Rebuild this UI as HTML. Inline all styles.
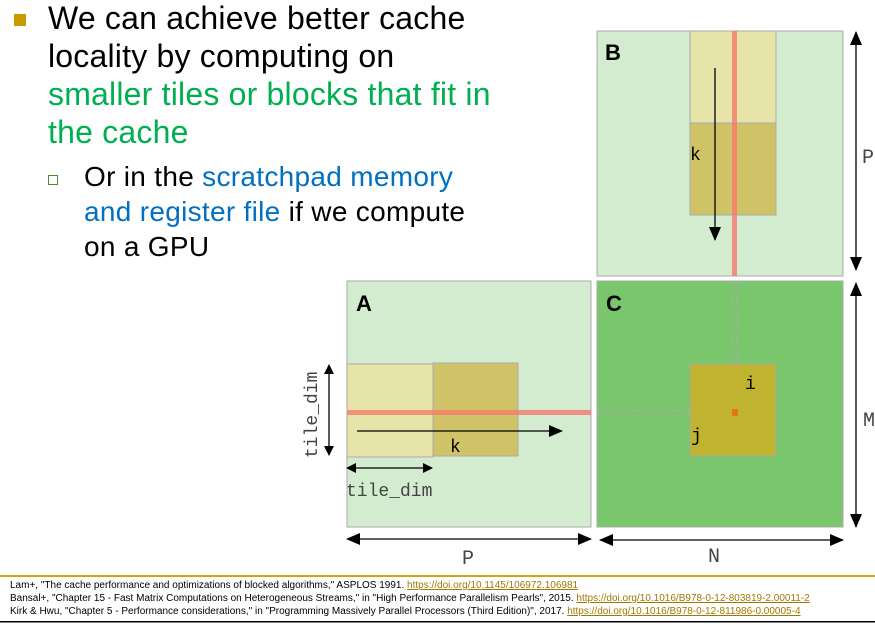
<!DOCTYPE html>
<html><head><style>
body{margin:0;width:875px;height:625px;background:#fff;position:relative;overflow:hidden;font-family:"Liberation Sans",sans-serif}
.t{position:absolute;white-space:nowrap}
.g{color:#00b050}.b{color:#0070c0}
.ref{position:absolute;left:10px;font-size:10px;color:#000;white-space:nowrap}
.ref a{color:#a07800;text-decoration:underline}
</style></head><body>
<div style="position:absolute;left:14px;top:14px;width:12px;height:12px;background:#c89a00"></div>
<div class="t" style="left:48px;top:-1px;font-size:32px;line-height:38px;letter-spacing:0.2px">We can achieve better cache<br>locality by computing on<br><span class="g">smaller tiles or blocks that fit in<br>the cache</span></div>
<div style="position:absolute;left:48px;top:175px;width:8px;height:8px;border:1.5px solid #4a8a2a"></div>
<div class="t" style="left:84px;top:159px;font-size:28px;line-height:35px;letter-spacing:0.3px">Or in the <span class="b">scratchpad memory</span><br><span class="b">and register file</span> if we compute<br>on a GPU</div>
<svg width="875" height="625" style="position:absolute;left:0;top:0">
<defs><marker id="a" markerWidth="10" markerHeight="10" refX="9" refY="5" orient="auto-start-reverse" markerUnits="userSpaceOnUse"><path d="M0,0L10,5L0,10z" fill="#000"/></marker>
<marker id="a2" markerWidth="14" markerHeight="12" refX="13" refY="6" orient="auto-start-reverse" markerUnits="userSpaceOnUse"><path d="M0,0L14,6L0,12z" fill="#000"/></marker></defs>
<rect x="597" y="31" width="246" height="245" fill="#d3ecd0" stroke="#aaa"/>
<rect x="690" y="31" width="86" height="92" fill="#e6e4a8" stroke="#aaa"/>
<rect x="690" y="123" width="86" height="92" fill="#d0c367" stroke="#aaa"/>
<rect x="732" y="31" width="5" height="245" fill="#f57a6e" opacity=".8"/>
<line x1="715" y1="68" x2="715" y2="240" stroke="#000" stroke-width="1.3" marker-end="url(#a2)"/>
<text x="605" y="60" font-size="22" font-weight="bold">B</text>
<text x="690" y="160" font-family="Liberation Mono" font-size="18">k</text>
<rect x="347" y="281" width="244" height="246" fill="#d3ecd0" stroke="#aaa"/>
<rect x="347" y="364" width="86" height="93" fill="#e6e4a8" stroke="#aaa"/>
<rect x="433" y="363" width="85" height="93" fill="#d0c367" stroke="#aaa"/>
<rect x="347" y="410" width="244" height="5" fill="#f57a6e" opacity=".8"/>
<line x1="357" y1="431" x2="562" y2="431" stroke="#000" stroke-width="1.3" marker-end="url(#a2)"/>
<text x="356" y="311" font-size="22" font-weight="bold">A</text>
<text x="450" y="452" font-family="Liberation Mono" font-size="18">k</text>
<rect x="597" y="281" width="246" height="246" fill="#79c66c" stroke="#aaa"/>
<line x1="733" y1="281" x2="733" y2="412" stroke="#aaa" stroke-dasharray="3,2"/>
<line x1="737" y1="281" x2="737" y2="412" stroke="#aaa" stroke-dasharray="3,2"/>
<line x1="597" y1="411" x2="735" y2="411" stroke="#aaa" stroke-dasharray="3,2"/>
<line x1="597" y1="415" x2="735" y2="415" stroke="#aaa" stroke-dasharray="3,2"/>
<rect x="690" y="364" width="86" height="92" fill="#c4b22c" stroke="#aaa" opacity=".95"/>
<rect x="732" y="409" width="6" height="7" fill="#e07a10"/>
<text x="606" y="311" font-size="22" font-weight="bold">C</text>
<text x="745" y="389" font-family="Liberation Mono" font-size="18">i</text>
<text x="691" y="441" font-family="Liberation Mono" font-size="18">j</text>
<line x1="329" y1="365" x2="329" y2="455" stroke="#000" stroke-width="1.3" marker-start="url(#a)" marker-end="url(#a)"/>
<text transform="translate(317,458) rotate(-90)" font-family="Liberation Mono" font-size="18" fill="#444">tile_dim</text>
<line x1="347" y1="468" x2="432" y2="468" stroke="#000" stroke-width="1.3" marker-start="url(#a)" marker-end="url(#a)"/>
<text x="346" y="496" font-family="Liberation Mono" font-size="18" fill="#444">tile_dim</text>
<line x1="347" y1="539" x2="591" y2="539" stroke="#000" stroke-width="1.3" marker-start="url(#a2)" marker-end="url(#a2)"/>
<text x="462" y="564" font-family="Liberation Mono" font-size="20" fill="#444">P</text>
<line x1="600" y1="540" x2="843" y2="540" stroke="#000" stroke-width="1.3" marker-start="url(#a2)" marker-end="url(#a2)"/>
<text x="708" y="562" font-family="Liberation Mono" font-size="20" fill="#444">N</text>
<line x1="856" y1="32" x2="856" y2="270" stroke="#000" stroke-width="1.3" marker-start="url(#a2)" marker-end="url(#a2)"/>
<text x="862" y="163" font-family="Liberation Mono" font-size="20" fill="#444">P</text>
<line x1="856" y1="283" x2="856" y2="527" stroke="#000" stroke-width="1.3" marker-start="url(#a2)" marker-end="url(#a2)"/>
<text x="863" y="426" font-family="Liberation Mono" font-size="20" fill="#444">M</text>
<rect x="0" y="575" width="875" height="2" fill="#d4a017"/>
<rect x="0" y="621" width="875" height="1.5" fill="#000"/>
</svg>
<div class="ref" style="top:580px">Lam+, "The cache performance and optimizations of blocked algorithms," ASPLOS 1991. <a>https://doi.org/10.1145/106972.106981</a></div>
<div class="ref" style="top:593px">Bansal+, "Chapter 15 - Fast Matrix Computations on Heterogeneous Streams," in "High Performance Parallelism Pearls", 2015. <a>https://doi.org/10.1016/B978-0-12-803819-2.00011-2</a></div>
<div class="ref" style="top:606px">Kirk &amp; Hwu, "Chapter 5 - Performance considerations," in "Programming Massively Parallel Processors (Third Edition)", 2017. <a>https://doi.org/10.1016/B978-0-12-811986-0.00005-4</a></div>
</body></html>
